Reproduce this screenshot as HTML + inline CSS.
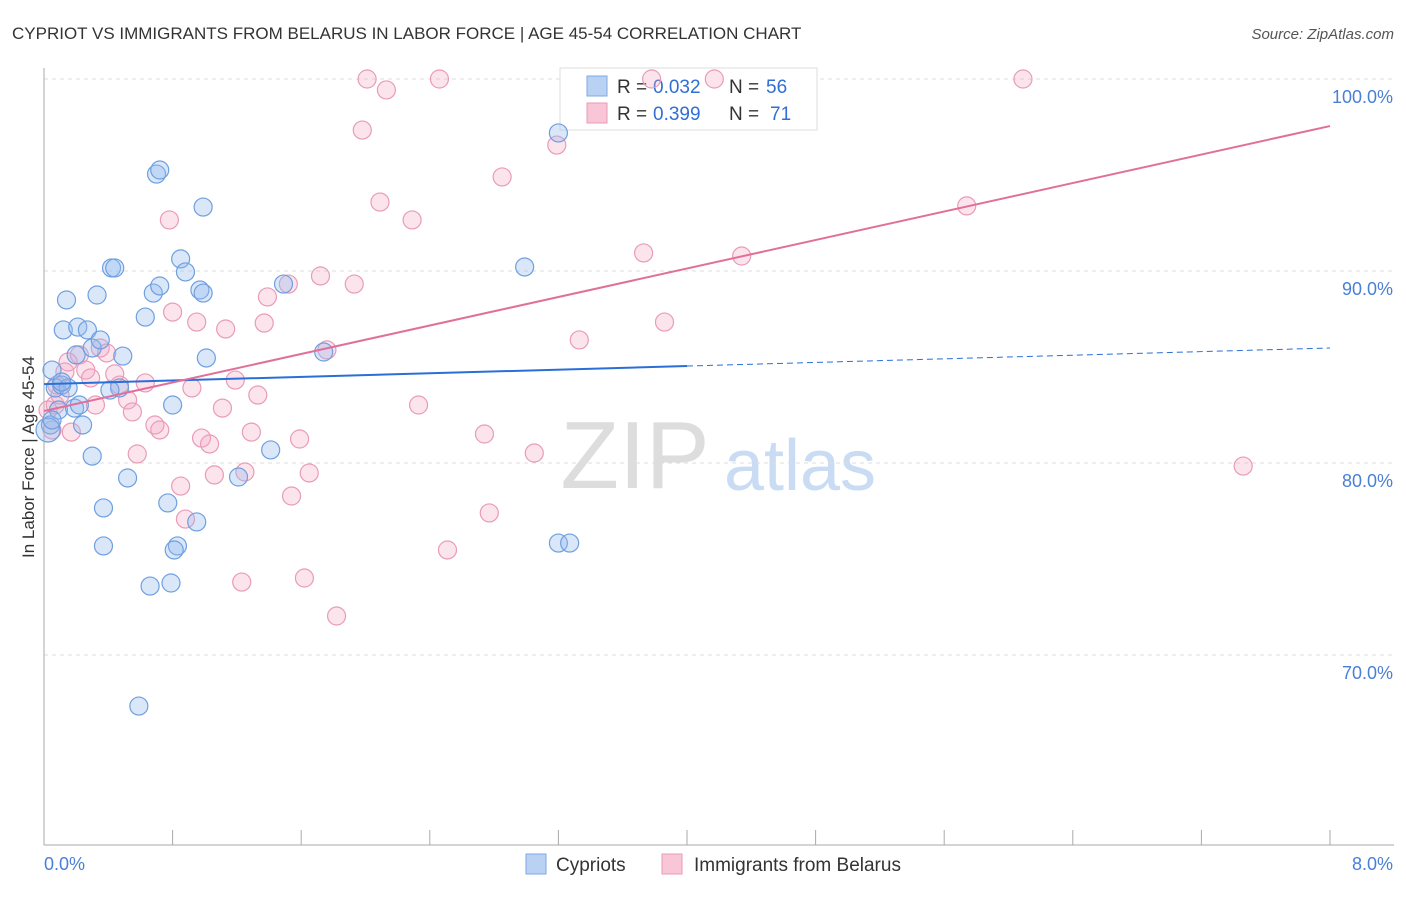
<!DOCTYPE html>
<html><head><meta charset="utf-8"><style>
body{margin:0;background:#fff;font-family:"Liberation Sans",sans-serif}
svg text{font-family:"Liberation Sans",sans-serif}
</style></head><body>
<svg id="chart" width="1406" height="892" viewBox="0 0 1406 892">
<text x="12" y="39" font-size="17" fill="#333">CYPRIOT VS IMMIGRANTS FROM BELARUS IN LABOR FORCE | AGE 45-54 CORRELATION CHART</text>
<text x="1394" y="39" font-size="15" fill="#555" text-anchor="end" font-style="italic">Source: ZipAtlas.com</text>
<text transform="translate(34,457) rotate(-90)" font-size="17" fill="#333" text-anchor="middle">In Labor Force | Age 45-54</text>
<g><text x="635" y="488" font-size="96" fill="#ddd" font-family="Liberation Serif" text-anchor="middle">ZIP</text><text x="800" y="490" font-size="72" fill="#c9dcf3" text-anchor="middle">atlas</text></g>
<g id="grid"></g><g id="axes"></g>
<g>
<rect x="560" y="68" width="257" height="62" fill="#fff" stroke="#ddd"/>
<rect x="587" y="76" width="20" height="20" fill="#b9d2f3" stroke="#7ea8e4"/>
<text x="617" y="93" font-size="19" fill="#333">R =</text><text x="653" y="93" font-size="19" fill="#2f6fd6">0.032</text>
<text x="729" y="93" font-size="19" fill="#333">N =</text><text x="766" y="93" font-size="19" fill="#2f6fd6">56</text>
<rect x="587" y="103" width="20" height="20" fill="#f8c6d6" stroke="#e99bb7"/>
<text x="617" y="120" font-size="19" fill="#333">R =</text><text x="653" y="120" font-size="19" fill="#2f6fd6">0.399</text>
<text x="729" y="120" font-size="19" fill="#333">N =</text><text x="770" y="120" font-size="19" fill="#2f6fd6">71</text>
</g>
<g id="pts"></g><g id="lines"></g>
<g>
<rect x="526" y="854" width="20" height="20" fill="#b9d2f3" stroke="#7ea8e4"/>
<text x="556" y="871" font-size="19" fill="#333">Cypriots</text>
<rect x="662" y="854" width="20" height="20" fill="#f8c6d6" stroke="#e99bb7"/>
<text x="694" y="871" font-size="19" fill="#333">Immigrants from Belarus</text>
</g>
</svg>
<script>
const yTicks=[100,90,80,70];
const yTickLabels=["100.0%","90.0%","80.0%","70.0%"];
const xTicks=[0,0.8,1.6,2.4,3.2,4.0,4.8,5.6,6.4,7.2,8.0];
const xTickLabels=["0.0%","8.0%"];
const blueX=[0.05,0.04,0.025,0.07,0.09,0.11,0.15,0.14,0.12,0.21,0.20,0.27,0.30,0.35,0.33,0.24,0.19,0.22,0.30,0.37,0.37,0.42,0.44,0.49,0.47,0.41,0.52,0.63,0.68,0.72,0.70,0.72,0.80,0.77,0.83,0.81,0.66,0.79,0.85,0.88,0.97,0.99,0.99,1.01,0.95,1.21,1.41,1.49,1.74,2.99,3.20,3.20,3.27,0.59,0.11,0.05];
const blueY=[84.84,81.98,81.72,83.91,82.76,84.06,83.91,88.49,86.93,87.08,85.63,86.93,85.99,86.41,88.75,81.98,82.86,83.02,80.36,77.66,75.68,90.16,90.16,85.57,83.91,83.80,79.22,87.60,88.85,89.22,95.05,95.26,83.02,77.92,75.68,75.47,73.59,73.75,90.63,89.95,89.01,88.85,93.33,85.47,76.93,79.27,80.68,89.32,85.78,90.21,97.19,75.83,75.83,67.34,84.22,82.24];
const pinkX=[0.07,0.10,0.13,0.17,0.22,0.26,0.32,0.35,0.39,0.44,0.47,0.52,0.55,0.58,0.63,0.69,0.72,0.78,0.80,0.85,0.88,0.92,0.95,0.98,1.03,1.06,1.11,1.13,1.19,1.23,1.25,1.29,1.33,1.37,1.39,1.52,1.54,1.59,1.62,1.65,1.72,1.76,1.82,1.93,1.98,2.01,2.09,2.13,2.29,2.33,2.46,2.51,2.74,2.77,2.85,3.05,3.19,3.33,3.73,3.78,3.86,4.17,4.34,5.74,6.09,7.46,0.025,0.05,0.08,0.15,0.29];
const pinkY=[83.02,83.54,84.74,81.61,85.63,84.84,83.02,85.99,85.73,84.64,84.06,83.28,82.66,80.47,84.17,81.98,81.72,92.66,87.86,78.80,77.08,83.91,87.34,81.30,80.99,79.38,82.86,86.98,84.32,73.80,79.53,81.61,83.54,87.29,88.65,89.32,78.28,81.25,74.01,79.48,89.74,85.89,72.03,89.32,97.34,100,93.59,99.43,92.66,83.02,100,75.47,81.51,77.40,94.90,80.52,96.56,86.41,90.94,100,87.34,100,90.78,93.39,100,79.84,82.76,81.72,84.06,85.26,84.43];
const blueFit=[84.11,0.235];
const pinkFit=[82.71,1.855];
const X=v=>44+v*160.75, Y=v=>79+(100-v)*19.2;
const NS="http://www.w3.org/2000/svg";
function mk(p,t,a){const e=document.createElementNS(NS,t);for(const k in a)e.setAttribute(k,a[k]);p.appendChild(e);return e;}
const grid=document.getElementById('grid'),axes=document.getElementById('axes'),pts=document.getElementById('pts'),lines=document.getElementById('lines');
yTicks.forEach((t,i)=>{
 const g=mk(grid,'line',{x1:44,x2:1394,y1:Y(t),y2:Y(t),stroke:'#ddd','stroke-dasharray':'4,4'});
 
 
 const l=mk(axes,'text',{x:1393,y:Y(t)+24,'font-size':18,fill:'#4a7fd6','text-anchor':'end'});l.textContent=yTickLabels[i];
 
 
});
const ya=mk(axes,'line',{x1:44,x2:44,y1:68,y2:845,stroke:'#aaa'});


const xa=mk(axes,'line',{x1:44,x2:1394,y1:845,y2:845,stroke:'#aaa'});


xTicks.forEach(t=>{const k=mk(axes,'line',{x1:X(t),x2:X(t),y1:830,y2:845,stroke:'#aaa'});
 
 });
const l0=mk(axes,'text',{x:44,y:870,'font-size':18,fill:'#4a7fd6'});l0.textContent=xTickLabels[0];


const l1=mk(axes,'text',{x:1393,y:870,'font-size':18,fill:'#4a7fd6','text-anchor':'end'});l1.textContent=xTickLabels[1];


pinkX.forEach((x,i)=>{const c=mk(pts,'circle',{cx:X(x),cy:Y(pinkY[i]),r:9,fill:'rgba(244,167,194,0.3)',stroke:'#e99bb7','stroke-width':1.2});
 
 });
blueX.forEach((x,i)=>{const c=mk(pts,'circle',{cx:X(x),cy:Y(blueY[i]),r:i==2?12:9,fill:'rgba(147,187,238,0.35)',stroke:'#6f9fe0','stroke-width':1.2});
 
 });
const fy=(f,x)=>f[0]+f[1]*x;
const b1=mk(lines,'line',{x1:X(0),y1:Y(fy(blueFit,0)),x2:X(4),y2:Y(fy(blueFit,4)),stroke:'#2a6fd6','stroke-width':2});


const b2=mk(lines,'line',{x1:X(4),y1:Y(fy(blueFit,4)),x2:X(8),y2:Y(fy(blueFit,8)),stroke:'#2a6fd6','stroke-width':1,'stroke-dasharray':'6,4'});


const p1=mk(lines,'line',{x1:X(0),y1:Y(fy(pinkFit,0)),x2:X(8),y2:Y(fy(pinkFit,8)),stroke:'#e0709a','stroke-width':2});


</script>
</body></html>
